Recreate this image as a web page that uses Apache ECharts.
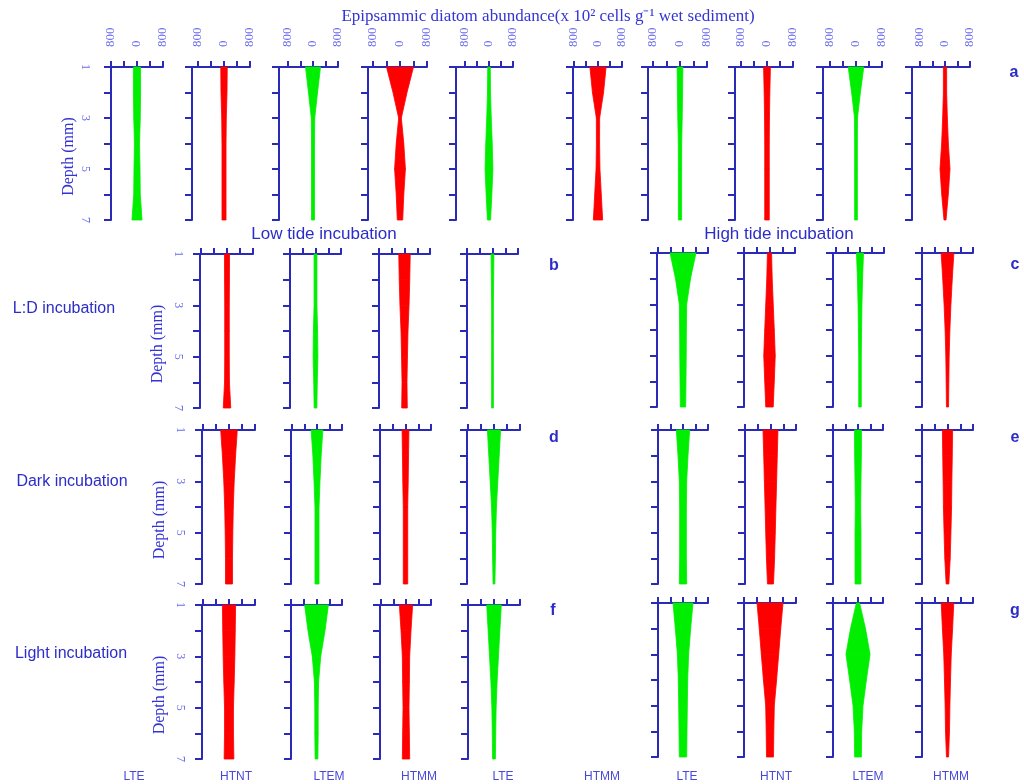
<!DOCTYPE html>
<html><head><meta charset="utf-8">
<script src="https://cdn.jsdelivr.net/npm/echarts@6/dist/echarts.min.js"></script>
<style>html,body{margin:0;padding:0;background:#fff}#c{width:1024px;height:784px}</style>
</head><body><div id="c"></div><script>
// depth (mm) of each sample
const depths = [1, 2, 3, 4, 5, 6, 7];
// x-axis ticks / labels (x 10^2 cells g-1 wet sediment)
const xTickValues = [-800, -400, 0, 400, 800];
const xTickLabels = [-800, 0, 800];
const bottomLabels = ['LTE', 'HTNT', 'LTEM', 'HTMM', 'LTE', 'HTMM', 'LTE', 'HTNT', 'LTEM', 'HTMM'];
const leftGroupNames = ['HTNT', 'LTEM', 'HTMM', 'LTE'];
const rightGroupNames = ['LTE', 'HTNT', 'LTEM', 'HTMM'];

// abundance values per depth 1..7
// row a (field samples)
const a1_LTE  = [220, 220, 200, 155, 185, 200, 310];
const a2_HTNT = [200, 185, 140, 125, 125, 125, 125];
const a3_LTEM = [480, 290, 110, 95, 95, 95, 95];
const a4_HTMM = [800, 415, 80, 225, 320, 225, 160];
const a5_LTE  = [85, 100, 150, 215, 260, 190, 105];
const a6_HTMM = [540, 370, 110, 105, 130, 220, 310];
const a7_LTE  = [170, 150, 130, 100, 95, 95, 95];
const a8_HTNT = [210, 175, 150, 140, 140, 140, 140];
const a9_LTEM = [480, 270, 90, 85, 85, 85, 85];
const a10_HTMM = [105, 105, 150, 215, 320, 210, 65];
// row b (L:D, low tide)
const b_HTNT = [155, 150, 140, 140, 140, 150, 230];
const b_LTEM = [90, 90, 90, 130, 150, 110, 85];
const b_HTMM = [360, 330, 285, 220, 185, 155, 175];
const b_LTE  = [90, 70, 55, 55, 55, 55, 55];
// row c (L:D, high tide)
const c_LTE  = [830, 480, 235, 215, 205, 190, 170];
const c_HTNT = [130, 170, 235, 300, 360, 300, 235];
const c_LTEM = [235, 170, 130, 105, 85, 85, 85];
const c_HTMM = [400, 300, 215, 150, 105, 85, 65];
// row d (dark, low tide)
const d_HTNT = [510, 405, 320, 265, 235, 215, 215];
const d_LTEM = [375, 265, 190, 130, 130, 130, 130];
const d_HTMM = [215, 190, 170, 140, 140, 140, 140];
const d_LTE  = [405, 320, 235, 150, 105, 85, 55];
// row e (dark, high tide)
const e_LTE  = [425, 320, 235, 215, 215, 215, 235];
const e_HTNT = [470, 425, 385, 340, 300, 255, 190];
const e_LTEM = [225, 215, 190, 170, 190, 190, 190];
const e_HTMM = [320, 300, 275, 255, 215, 170, 85];
// row f (light, low tide)
const f_HTNT = [405, 385, 360, 320, 275, 275, 300];
const f_LTEM = [745, 535, 265, 130, 105, 105, 85];
const f_HTMM = [425, 320, 235, 215, 190, 215, 235];
const f_LTE  = [450, 360, 275, 190, 130, 105, 85];
// row g (light, high tide)
const g_LTE  = [640, 490, 360, 300, 275, 255, 235];
const g_HTNT = [800, 660, 535, 405, 265, 235, 215];
const g_LTEM = [105, 480, 770, 535, 320, 235, 215];
const g_HTMM = [395, 320, 235, 190, 150, 125, 65];

// ---------- layout (pixels) ----------
const GREEN = '#00ee00', RED = '#ff0000';
const AXIS = '#2a2ab8', LABEL = '#6b6bf0', TEXT = '#2c2cc8';
function colorOf(name) { return name.indexOf('HT') === 0 ? RED : GREEN; }

const rowAGeom = [[111,137,163],[192,224,250],[279,313,338],[368,400,427],[456,489,513],
                  [573,598,622],[648,680,707],[735,767,793],[823,856,882],[912,945,970]];
const rowASeries = [a1_LTE, a2_HTNT, a3_LTEM, a4_HTMM, a5_LTE, a6_HTMM, a7_LTE, a8_HTNT, a9_LTEM, a10_HTMM];
const leftGeom = {
  b: [[200,227,253],[290,315,341],[379,404,430],[467,492,518]],
  d: [[202,229,255],[291,317,342],[380,405,431],[467,494,520]],
  f: [[202,229,255],[291,316,342],[380,406,431],[468,494,520]]
};
const rightGeom = {
  c: [[657,683,708],[744,769,795],[833,860,884],[922,947,973]],
  e: [[658,683,708],[745,770,796],[833,858,883],[922,947,973]],
  g: [[658,683,708],[744,770,796],[833,858,883],[922,947,973]]
};
const rowY = { a:[67,220], b:[254,408], c:[253,407], d:[430,584], e:[430,584], f:[605,759], g:[603,757] };
const leftSeries = { b:[b_HTNT,b_LTEM,b_HTMM,b_LTE], d:[d_HTNT,d_LTEM,d_HTMM,d_LTE], f:[f_HTNT,f_LTEM,f_HTMM,f_LTE] };
const rightSeries = { c:[c_LTE,c_HTNT,c_LTEM,c_HTMM], e:[e_LTE,e_HTNT,e_LTEM,e_HTMM], g:[g_LTE,g_HTNT,g_LTEM,g_HTMM] };

const grids = [], xAxes = [], yAxes = [], series = [];

function addPanel(geom, yr, values, color, yLabelMargin, nameGap, showX) {
  const [l, c, r] = geom;
  const idx = grids.length;
  const showY = yLabelMargin > 0;
  const xmin = Math.min(-800, -800 * (c - l) / (r - c));
  grids.push({ left: l, top: yr[0], width: r - l, height: yr[1] - yr[0] });
  xAxes.push({
    gridIndex: idx, type: 'value', position: 'top', min: xmin, max: 800,
    axisLine: { show: true, onZero: false, lineStyle: { color: AXIS, width: 2 } },
    axisTick: { show: true, length: 6, customValues: xTickValues, lineStyle: { color: AXIS, width: 2 } },
    axisLabel: { show: showX, customValues: xTickLabels, formatter: v => String(Math.abs(v)),
      rotate: -90, margin: 20, color: LABEL, fontFamily: 'Liberation Serif', fontSize: 13 },
    splitLine: { show: false }
  });
  yAxes.push({
    gridIndex: idx, type: 'value', inverse: true, min: 1, max: 7, interval: 1, position: 'left',
    axisLine: { show: true, onZero: false, lineStyle: { color: AXIS, width: 2 } },
    axisTick: { show: true, length: 7, lineStyle: { color: AXIS, width: 2 } },
    axisLabel: { show: showY, formatter: v => (v % 2 === 1 ? String(v) : ''), rotate: -90,
      margin: showY ? yLabelMargin : 8, color: LABEL, fontFamily: 'Liberation Serif', fontSize: 12 },
    name: showY ? 'Depth (mm)' : '', nameLocation: 'middle', nameRotate: 90, nameGap: nameGap,
    nameTextStyle: { color: '#3434d4', fontFamily: 'Liberation Serif', fontSize: 16, padding: [0, 0, 0, -26] },
    splitLine: { show: false }
  });
  const segs = [];
  for (let i = 0; i < depths.length - 1; i++) segs.push([depths[i], values[i], depths[i + 1], values[i + 1]]);
  series.push({
    type: 'custom', coordinateSystem: 'cartesian2d', xAxisIndex: idx, yAxisIndex: idx,
    data: segs, silent: true,
    renderItem: function (params, api) {
      const d0 = api.value(0), v0 = api.value(1), d1 = api.value(2), v1 = api.value(3);
      const pts = [api.coord([-v0 / 2, d0]), api.coord([v0 / 2, d0]), api.coord([v1 / 2, d1]), api.coord([-v1 / 2, d1])];
      return { type: 'polygon', shape: { points: pts }, style: { fill: color, stroke: color, lineWidth: 0.8 } };
    }
  });
}

rowASeries.forEach((vals, i) => addPanel(rowAGeom[i], rowY.a, vals, colorOf(bottomLabels[i]), i === 0 ? 20 : 0, 34, true));
['b', 'd', 'f'].forEach(k => leftSeries[k].forEach((vals, i) =>
  addPanel(leftGeom[k][i], rowY[k], vals, colorOf(leftGroupNames[i]), i === 0 ? 16 : 0, 34, false)));
['c', 'e', 'g'].forEach(k => rightSeries[k].forEach((vals, i) =>
  addPanel(rightGeom[k][i], rowY[k], vals, colorOf(rightGroupNames[i]), 0, 0, false)));

const sans = 'Liberation Sans';
function txt(x, y, s, opt) {
  return Object.assign({ type: 'text', x: x, y: y, style: Object.assign({ text: s, fill: TEXT, fontFamily: sans,
    fontSize: 14, align: 'center', verticalAlign: 'middle' }, opt || {}) });
}
const graphics = [
  txt(548, 17, 'Epipsammic diatom abundance(x 10\u00B2 cells g\u207B\u00B9 wet sediment)', { fontFamily: 'Liberation Serif', fontSize: 17, fill: '#3434d4' }),
  txt(324, 234, 'Low tide incubation', { fontSize: 17 }),
  txt(779, 234, 'High tide incubation', { fontSize: 17 }),
  txt(64, 309, 'L:D incubation', { fontSize: 16 }),
  txt(72, 482, 'Dark incubation', { fontSize: 16 }),
  txt(71, 654, 'Light incubation', { fontSize: 16 }),
  txt(1014, 73, 'a', { fontWeight: 'bold', fontSize: 16 }),
  txt(554, 266, 'b', { fontWeight: 'bold', fontSize: 16 }),
  txt(1015, 265, 'c', { fontWeight: 'bold', fontSize: 16 }),
  txt(554, 438, 'd', { fontWeight: 'bold', fontSize: 16 }),
  txt(1015, 438, 'e', { fontWeight: 'bold', fontSize: 16 }),
  txt(553, 611, 'f', { fontWeight: 'bold', fontSize: 16 }),
  txt(1015, 611, 'g', { fontWeight: 'bold', fontSize: 16 })
];
const bottomX = [134, 236, 329, 419, 503, 602, 687, 776, 868, 951];
bottomLabels.forEach((s, i) => graphics.push(txt(bottomX[i], 777, s, { fontSize: 12, fill: '#4848d8' })));

const chart = echarts.init(document.getElementById('c'), null, { renderer: 'canvas' });
chart.setOption({
  animation: false, backgroundColor: '#ffffff',
  grid: grids, xAxis: xAxes, yAxis: yAxes, series: series, graphic: graphics
});
</script></body></html>
